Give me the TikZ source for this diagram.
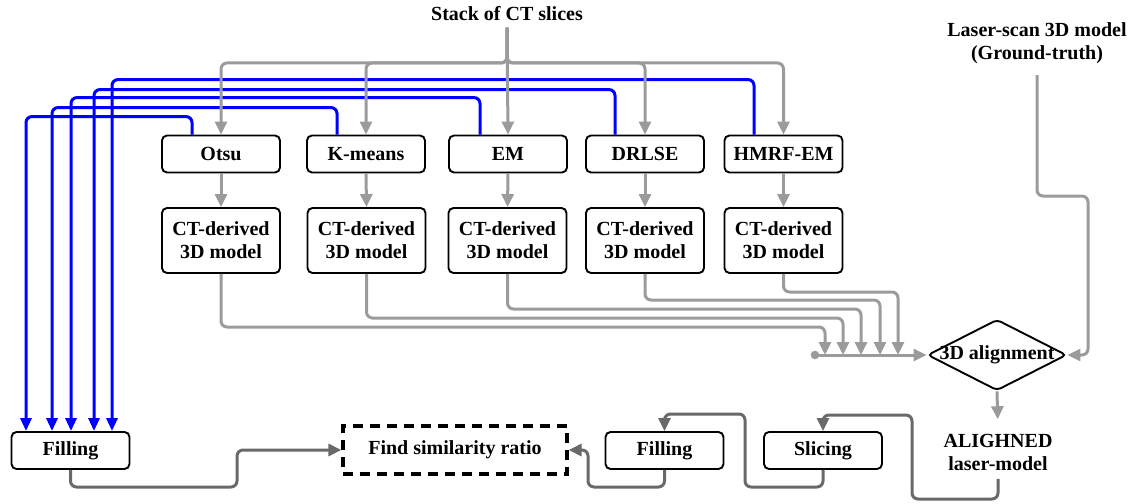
\documentclass[tikz,border=0pt]{standalone}
\usepackage{fontspec}
\setmainfont{Liberation Serif}
\usetikzlibrary{arrows.meta,shapes.geometric}
\definecolor{feedgray}{RGB}{155,155,155}
\definecolor{resultgray}{RGB}{105,105,105}
\definecolor{loopblue}{RGB}{0,0,255}

\begin{document}
\begin{tikzpicture}[x=1pt,y=-1pt,
  font=\fontsize{20}{23}\selectfont\bfseries,
  headtip/.style={-{Triangle[length=13pt,width=12pt]}},
  box/.style={draw, line width=1.9pt, rounded corners=5pt, minimum width=118pt,
    minimum height=37pt, align=center, inner sep=2pt},
  modelbox/.style={box, minimum height=65pt},
  feedline/.style={draw=feedgray, line width=3pt, rounded corners=6pt, headtip},
  resultline/.style={draw=resultgray, line width=3pt, rounded corners=6pt, headtip},
  backline/.style={draw=loopblue, line width=3pt, rounded corners=6pt,
    -{Triangle[length=13pt,width=11pt]}}
]
\useasboundingbox (0,0) rectangle (1137,503);

% inputs
\node (stack) at (507,14) {Stack of CT slices};
\node[align=center] (laser) at (1037,43) {Laser-scan 3D model\\(Ground-truth)};

% segmentation methods
\node[box] (otsu)   at (221,154)   {Otsu};
\node[box] (kmeans) at (366,154)   {K-means};
\node[box] (em)     at (508,154)   {EM};
\node[box] (drlse)  at (645,154)   {DRLSE};
\node[box] (hmrf)   at (783.5,154) {HMRF-EM};

% reconstructed models
\node[modelbox] (m1) at (221,240.5)   {CT-derived\\3D model};
\node[modelbox] (m2) at (366.5,240.5) {CT-derived\\3D model};
\node[modelbox] (m3) at (507.5,240.5) {CT-derived\\3D model};
\node[modelbox] (m4) at (645,240.5)   {CT-derived\\3D model};
\node[modelbox] (m5) at (783.5,240.5) {CT-derived\\3D model};

% alignment
\node[shape=diamond, draw, line width=1.9pt, rounded corners=4pt, inner sep=0pt,
  minimum width=139pt, minimum height=71pt] (align) at (997,355)
  {\makebox[0pt]{3D alignment}};
\node[align=center] (aligned) at (998,452) {ALIGHNED\\laser-model};

% comparison row
\node[box] (fillL) at (70.5,450.5) {Filling};
\node[draw, dashed, line width=3.2pt, dash pattern=on 10pt off 7pt,
  minimum width=224pt, minimum height=48pt] (sim) at (455,450) {Find similarity ratio};
\node[box] (fillR) at (664.5,450.5) {Filling};
\node[box] (slice) at (823,450.5) {Slicing};

% segmentations fed back to the filling step
\draw[backline] ([xshift=-29pt]otsu.north)   -- ++(0,-18) -| ([xshift=-44.5pt]fillL.north);
\draw[backline] ([xshift=-29pt]kmeans.north) -- ++(0,-27) -| ([xshift=-18.5pt]fillL.north);
\draw[backline] ([xshift=-28pt]em.north)     -- ++(0,-37) -| ([xshift=0.5pt]fillL.north);
\draw[backline] ([xshift=-30pt]drlse.north)  -- ++(0,-45) -| ([xshift=23.5pt]fillL.north);
\draw[backline] ([xshift=-29.5pt]hmrf.north) -- ++(0,-55) -| ([xshift=41.5pt]fillL.north);

% CT stack distributed to every method
\coordinate (split) at (507,63);
\draw[feedline, shorten <=3pt] (stack.south) -- (split) -| (otsu.north);
\draw[feedline, shorten <=3pt] (stack.south) -- (split) -| (kmeans.north);
\draw[feedline, shorten <=3pt] (stack.south) -- (em.north);
\draw[feedline, shorten <=3pt] (stack.south) -- (split) -| (drlse.north);
\draw[feedline, shorten <=3pt] (stack.south) -- (split) -| (hmrf.north);

\foreach \a/\b in {otsu/m1, kmeans/m2, em/m3, drlse/m4, hmrf/m5}
  \draw[feedline] (\a.south) -- (\b.north);

% models merged into the alignment
\coordinate (dot) at (815,355);
\coordinate (j1) at (825,355);
\coordinate (j2) at (843,355);
\coordinate (j3) at (861,355);
\coordinate (j4) at (880,355);
\coordinate (j5) at (898,355);
\draw[feedline] (m1.south) |- (825,327) -- (j1);
\draw[feedline] (m2.south) |- (843,318) -- (j2);
\draw[feedline] (m3.south) |- (861,309) -- (j3);
\draw[feedline] (m4.south) |- (880,300) -- (j4);
\draw[feedline] (m5.south) |- (898,292) -- (j5);
\draw[feedline] (dot) -- (align.west);
\fill[feedgray] (dot) circle (4.3pt);

\draw[feedline, shorten <=8pt] (laser.south) -- (1037,196) -| (1088,355) -- (align.east);
\draw[feedline, shorten >=11pt] (align.south) -- (aligned.north);

% slicing, filling and comparison
\draw[resultline, shorten <=5pt] (aligned.south) |- (912,499) -- (912,415) -| (slice.north);
\draw[resultline] (slice.south) |- (745,487) -- (745,414) -| (fillR.north);
\draw[resultline] (fillR.south) |- (588,487) |- (sim.east);
\draw[resultline] (fillL.south) |- (237,487) |- (sim.west);
\end{tikzpicture}
\end{document}
